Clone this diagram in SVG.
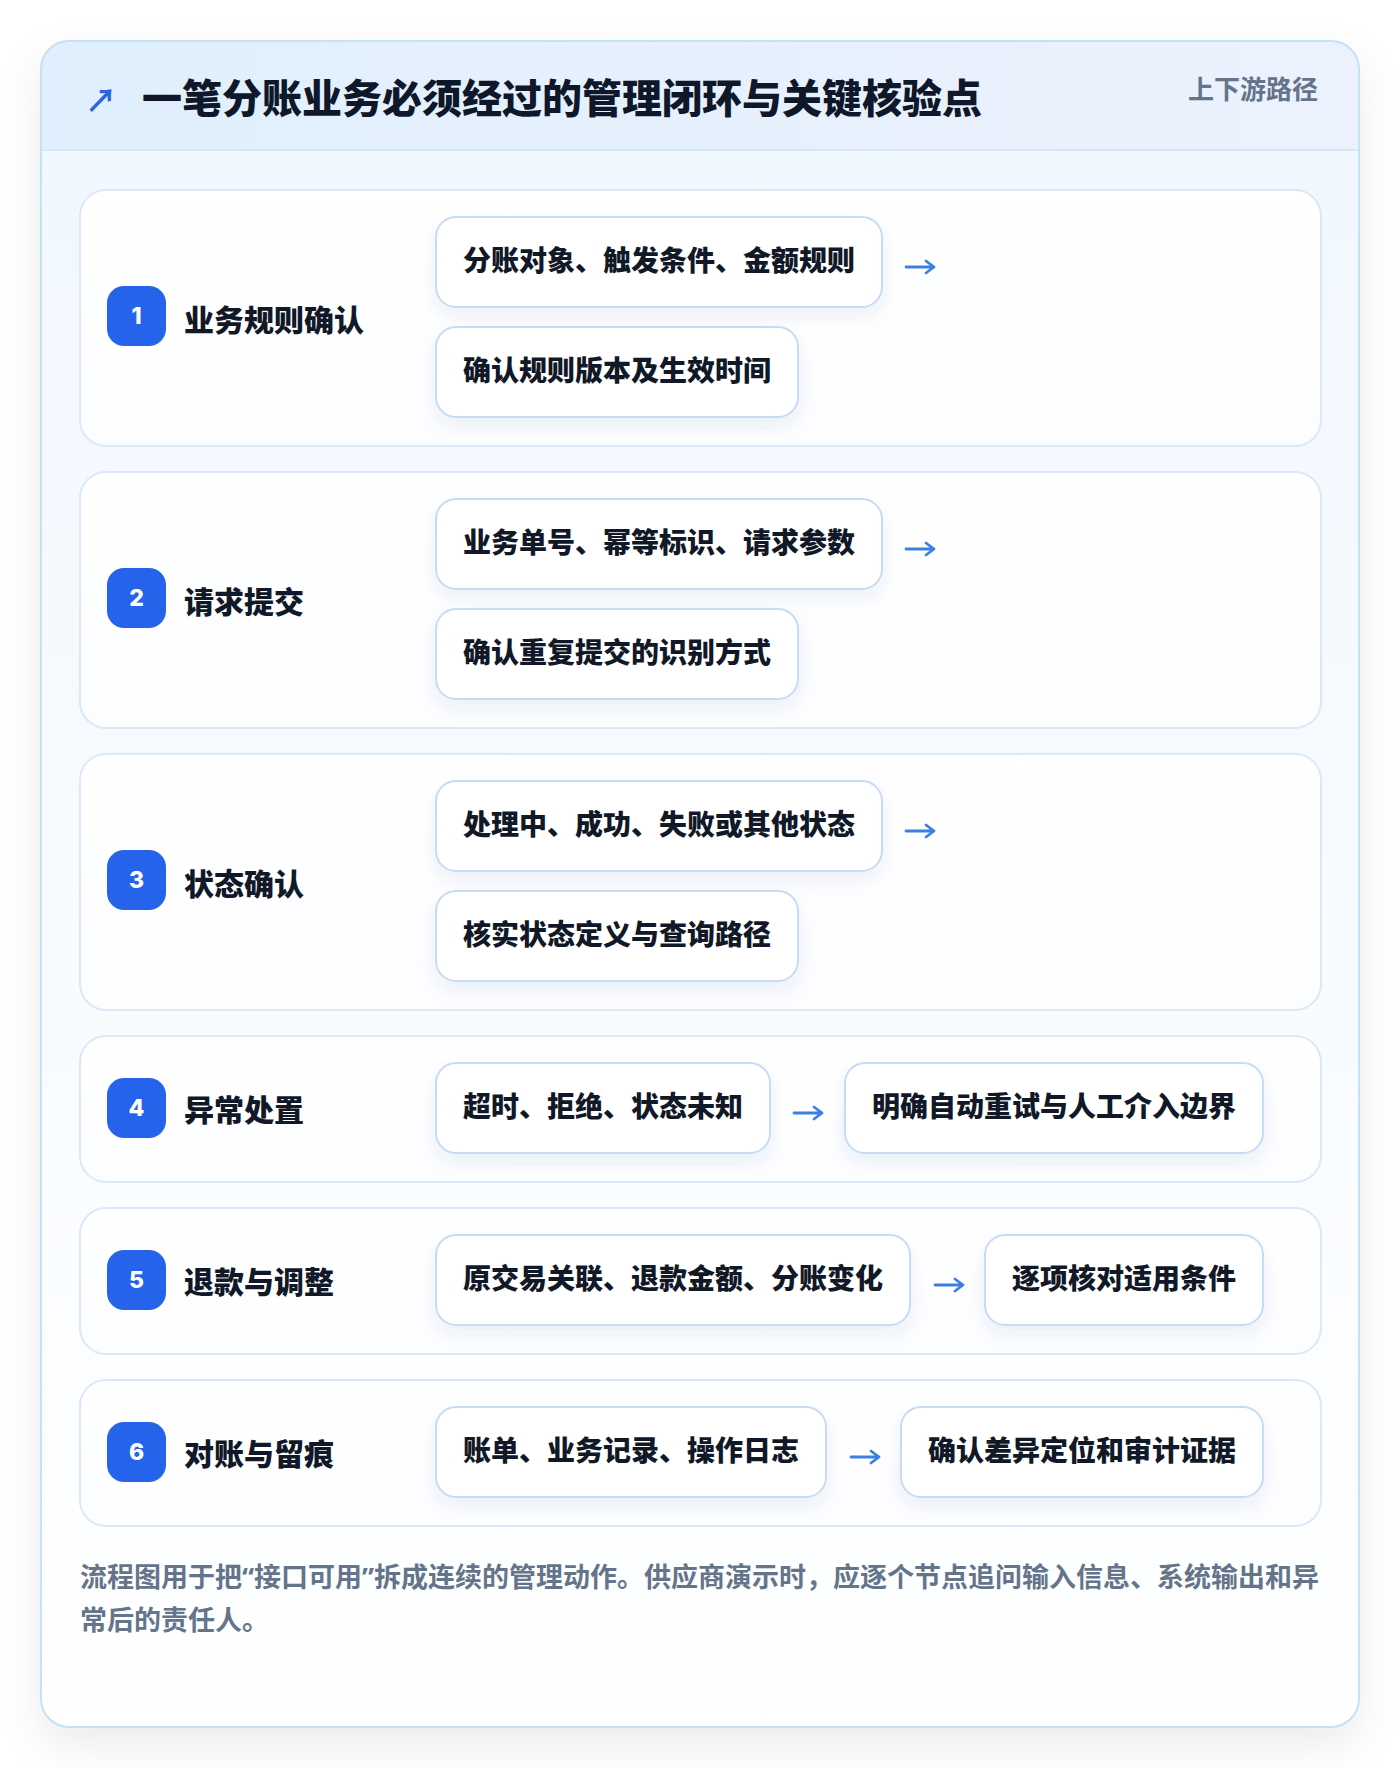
<svg xmlns="http://www.w3.org/2000/svg" width="1400" height="1768" viewBox="0 0 1400 1768">
<defs>
  <linearGradient id="cardBg" x1="0" y1="0" x2="0" y2="1">
    <stop offset="0" stop-color="#f0f7fe"/>
    <stop offset="0.75" stop-color="#fbfdff"/>
    <stop offset="1" stop-color="#ffffff"/>
  </linearGradient>
  <linearGradient id="headBg" x1="0" y1="0" x2="1" y2="0">
    <stop offset="0" stop-color="#e0effd"/>
    <stop offset="1" stop-color="#ecf2fd"/>
  </linearGradient>
  <linearGradient id="rowBg" x1="0" y1="0" x2="0" y2="1">
    <stop offset="0" stop-color="#ffffff"/>
    <stop offset="1" stop-color="#fcfdff"/>
  </linearGradient>
  <clipPath id="cardClip">
    <rect x="41" y="41" width="1318" height="1686" rx="28"/>
  </clipPath>
  <filter id="cardShadow" x="-10%" y="-10%" width="120%" height="120%">
    <feDropShadow dx="0" dy="18" stdDeviation="22" flood-color="#0f172a" flood-opacity="0.08"/>
  </filter>
  <filter id="pillShadow" x="-20%" y="-30%" width="140%" height="180%">
    <feDropShadow dx="0" dy="8" stdDeviation="8" flood-color="#1e3a8a" flood-opacity="0.07"/>
  </filter>
  <style>
    .cjk { font-family: "Noto Sans CJK SC", "Noto Sans", sans-serif; font-weight: 700; }
    .title { font-size: 40px; fill: #0f172a; font-weight: 900; }
    .tag { font-size: 26px; fill: #64748b; }
    .row { fill: url(#rowBg); stroke: #dbe8f8; stroke-width: 2; }
    .badge { fill: #2563eb; }
    .num { font-family: "Inter", "Noto Sans", sans-serif; font-weight: 800; font-size: 23px; fill: #ffffff; text-anchor: middle; }
    .label { font-size: 30px; fill: #111827; font-weight: 900; }
    .pill { fill: #ffffff; stroke: #c6dbf6; stroke-width: 2; }
    .ptext { font-size: 28px; fill: #111827; font-weight: 900; }
    .foot { font-size: 27px; fill: #64748b; }
    .q { font-family: "Noto Sans", "Liberation Sans", sans-serif; }
    .conn { fill: none; stroke: #3b7fe2; stroke-width: 2.8; stroke-linecap: round; stroke-linejoin: round; }
  </style>
</defs>

<rect x="0" y="0" width="1400" height="1768" fill="#ffffff"/>

<g id="card">
  <rect x="41" y="41" width="1318" height="1686" rx="28" fill="url(#cardBg)" filter="url(#cardShadow)"/>
  <g clip-path="url(#cardClip)">
    <rect x="41" y="41" width="1318" height="109" fill="url(#headBg)"/>
    <line x1="41" y1="150" x2="1359" y2="150" stroke="#d5e6f7" stroke-width="2"/>
  </g>
  <rect x="41" y="41" width="1318" height="1686" rx="28" fill="none" stroke="#c4e2f6" stroke-width="2"/>
</g>

<g id="header">
  <text x="85" y="112" class="cjk" font-size="32" font-weight="900" fill="#2f64e0">↗</text>
  <text x="142" y="113" class="cjk title">一笔分账业务必须经过的管理闭环与关键核验点</text>
  <text x="1318" y="99" class="cjk tag" text-anchor="end">上下游路径</text>
</g>

<g id="step1">
  <rect class="row" x="80" y="190" width="1241" height="256" rx="26"/>
  <rect class="badge" x="107" y="286" width="59" height="60" rx="17"/>
  <text class="num" x="136.5" y="324">1</text>
  <text class="cjk label" x="184" y="331">业务规则确认</text>
  <g filter="url(#pillShadow)">
    <rect class="pill" x="436" y="217" width="446" height="90" rx="20"/>
    <rect class="pill" x="436" y="327" width="362" height="90" rx="20"/>
  </g>
  <text class="cjk ptext" x="463" y="271">分账对象、触发条件、金额规则</text>
  <text class="cjk ptext" x="463" y="381">确认规则版本及生效时间</text>
</g>

<g id="step2">
  <rect class="row" x="80" y="472" width="1241" height="256" rx="26"/>
  <rect class="badge" x="107" y="568" width="59" height="60" rx="17"/>
  <text class="num" x="136.5" y="606">2</text>
  <text class="cjk label" x="184" y="613">请求提交</text>
  <g filter="url(#pillShadow)">
    <rect class="pill" x="436" y="499" width="446" height="90" rx="20"/>
    <rect class="pill" x="436" y="609" width="362" height="90" rx="20"/>
  </g>
  <text class="cjk ptext" x="463" y="553">业务单号、幂等标识、请求参数</text>
  <text class="cjk ptext" x="463" y="663">确认重复提交的识别方式</text>
</g>

<g id="step3">
  <rect class="row" x="80" y="754" width="1241" height="256" rx="26"/>
  <rect class="badge" x="107" y="850" width="59" height="60" rx="17"/>
  <text class="num" x="136.5" y="888">3</text>
  <text class="cjk label" x="184" y="895">状态确认</text>
  <g filter="url(#pillShadow)">
    <rect class="pill" x="436" y="781" width="446" height="90" rx="20"/>
    <rect class="pill" x="436" y="891" width="362" height="90" rx="20"/>
  </g>
  <text class="cjk ptext" x="463" y="835">处理中、成功、失败或其他状态</text>
  <text class="cjk ptext" x="463" y="945">核实状态定义与查询路径</text>
</g>

<g id="step4">
  <rect class="row" x="80" y="1036" width="1241" height="146" rx="26"/>
  <rect class="badge" x="107" y="1078" width="59" height="60" rx="17"/>
  <text class="num" x="136.5" y="1116">4</text>
  <text class="cjk label" x="184" y="1121">异常处置</text>
  <g filter="url(#pillShadow)">
    <rect class="pill" x="436" y="1063" width="334" height="90" rx="20"/>
    <rect class="pill" x="845" y="1063" width="418" height="90" rx="20"/>
  </g>
  <text class="cjk ptext" x="463" y="1117">超时、拒绝、状态未知</text>
  <text class="cjk ptext" x="872" y="1117">明确自动重试与人工介入边界</text>
</g>

<g id="step5">
  <rect class="row" x="80" y="1208" width="1241" height="146" rx="26"/>
  <rect class="badge" x="107" y="1250" width="59" height="60" rx="17"/>
  <text class="num" x="136.5" y="1288">5</text>
  <text class="cjk label" x="184" y="1293">退款与调整</text>
  <g filter="url(#pillShadow)">
    <rect class="pill" x="436" y="1235" width="474" height="90" rx="20"/>
    <rect class="pill" x="985" y="1235" width="278" height="90" rx="20"/>
  </g>
  <text class="cjk ptext" x="463" y="1289">原交易关联、退款金额、分账变化</text>
  <text class="cjk ptext" x="1012" y="1289">逐项核对适用条件</text>
</g>

<g id="step6">
  <rect class="row" x="80" y="1380" width="1241" height="146" rx="26"/>
  <rect class="badge" x="107" y="1422" width="59" height="60" rx="17"/>
  <text class="num" x="136.5" y="1460">6</text>
  <text class="cjk label" x="184" y="1465">对账与留痕</text>
  <g filter="url(#pillShadow)">
    <rect class="pill" x="436" y="1407" width="390" height="90" rx="20"/>
    <rect class="pill" x="901" y="1407" width="362" height="90" rx="20"/>
  </g>
  <text class="cjk ptext" x="463" y="1461">账单、业务记录、操作日志</text>
  <text class="cjk ptext" x="928" y="1461">确认差异定位和审计证据</text>
</g>

<g id="connectors">
  <path class="conn" d="M906 267 H934 M926 261 L934 267 L926 273"/>
  <path class="conn" d="M906 549 H934 M926 543 L934 549 L926 555"/>
  <path class="conn" d="M906 831 H934 M926 825 L934 831 L926 837"/>
  <path class="conn" d="M794 1113 H822 M814 1107 L822 1113 L814 1119"/>
  <path class="conn" d="M935 1285 H963 M955 1279 L963 1285 L955 1291"/>
  <path class="conn" d="M851 1457 H879 M871 1451 L879 1457 L871 1463"/>
</g>

<g id="footer">
  <text class="cjk foot" x="80" y="1587">流程图用于把<tspan class="q">“</tspan>接口可用<tspan class="q">”</tspan>拆成连续的管理动作。供应商演示时，应逐个节点追问输入信息、系统输出和异</text>
  <text class="cjk foot" x="80" y="1630">常后的责任人。</text>
</g>
</svg>
